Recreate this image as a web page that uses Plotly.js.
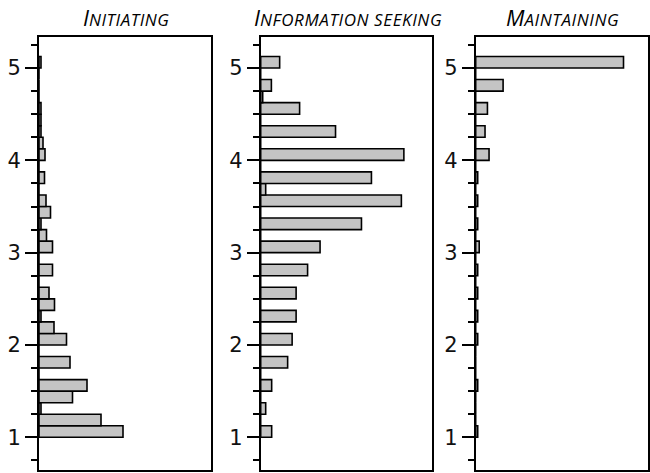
<!DOCTYPE html>
<html>
<head>
<meta charset="utf-8">
<script src="https://cdn.plot.ly/plotly-3.0.1.min.js"></script>
<style>
  html, body { margin: 0; padding: 0; background: #fff; }
  #chart { width: 650px; height: 473px; }
</style>
</head>
<body>
<div id="chart"></div>
<script>
// Score bins (centres of 0.125-wide bins, 1.0 to 5.125)
const scoreBins = [1.0625, 1.1875, 1.3125, 1.4375, 1.5625, 1.6875, 1.8125, 1.9375,
  2.0625, 2.1875, 2.3125, 2.4375, 2.5625, 2.6875, 2.8125, 2.9375,
  3.0625, 3.1875, 3.3125, 3.4375, 3.5625, 3.6875, 3.8125, 3.9375,
  4.0625, 4.1875, 4.3125, 4.4375, 4.5625, 4.6875, 4.8125, 4.9375, 5.0625];

// Frequencies (arbitrary units)
const initiating = [84, 62, 2, 33.5, 48, 0, 31, 0, 27.5, 15, 2, 15.5, 10, 0, 13.5, 0,
  13.5, 7.5, 2, 11.5, 7, 0, 5.5, 0, 6, 4, 2, 2, 2, 0, 0, 0, 2];
const infoSeeking = [11, 0, 5, 0, 11, 0, 27, 0, 31.5, 0, 35.5, 0, 35.5, 0, 47, 0,
  59.5, 0, 101, 0, 141, 5, 111, 0, 143.5, 0, 75, 0, 39, 2, 10.7, 0, 19];
const maintaining = [2, 0, 0, 0, 2, 0, 0, 0, 2, 0, 2, 0, 2, 0, 2, 0,
  3.5, 0, 2, 0, 2, 0, 2, 0, 13.3, 0, 9.3, 0, 11.7, 0, 27.3, 0, 147.3];

const panelTitles = [
  '<i>I<span style="font-size:17px;letter-spacing:0.5px">NITIATING</span></i>',
  '<i>I<span style="font-size:17px;letter-spacing:0.6px">NFORMATION SEEKING</span></i>',
  '<i>M<span style="font-size:17px;letter-spacing:0.6px">AINTAINING</span></i>'
];
const tickVals = [1, 2, 3, 4, 5];
const tickText = ['1', '2', '3', '4', '5'];

const series = [initiating, infoSeeking, maintaining];
const W = 650, H = 473;
const xDomains = [[39 / W, 211 / W], [260.7 / W, 432.3 / W], [475.7 / W, 648.3 / W]];
const yDomain = [(H - 470) / H, (H - 37) / H];

const traces = series.map((vals, k) => ({
  type: 'bar',
  orientation: 'h',
  x: vals,
  y: scoreBins,
  width: 0.125,
  xaxis: k === 0 ? 'x' : 'x' + (k + 1),
  yaxis: k === 0 ? 'y' : 'y' + (k + 1),
  marker: { color: '#c4c4c4', line: { color: '#000', width: 1.6 } },
  hoverinfo: 'x+y',
  showlegend: false
}));

const layout = {
  width: W, height: H,
  margin: { l: 0, r: 0, t: 0, b: 0 },
  paper_bgcolor: '#fff', plot_bgcolor: '#fff',
  bargap: 0,
  showlegend: false,
  annotations: panelTitles.map((t, k) => ({
    text: t, xref: 'paper', yref: 'paper',
    x: (xDomains[k][0] + xDomains[k][1]) / 2 + 1 / W, y: (H - 17) / H,
    xanchor: 'center', yanchor: 'middle', showarrow: false,
    font: { family: 'Open Sans, sans-serif', size: 22, color: '#000' }
  }))
};

for (let k = 0; k < 3; k++) {
  const sx = k === 0 ? '' : String(k + 1);
  layout['xaxis' + sx] = {
    domain: xDomains[k], range: [0, 172], anchor: 'y' + sx,
    showline: true, mirror: true, linecolor: '#000', linewidth: 2,
    showticklabels: false, ticks: '', showgrid: false, zeroline: false,
    fixedrange: true, automargin: false
  };
  layout['yaxis' + sx] = {
    domain: yDomain, range: [0.646, 5.336], anchor: 'x' + sx,
    showline: true, mirror: true, linecolor: '#000', linewidth: 2,
    tickmode: 'array', tickvals: tickVals, ticktext: tickText,
    ticks: 'outside', ticklen: 12, tickwidth: 2, tickcolor: '#000',
    minor: { dtick: 0.25, tick0: 0, ticks: 'outside', ticklen: 6, tickwidth: 2, tickcolor: '#000', showgrid: false },
    tickfont: { family: 'DejaVu Sans, sans-serif', size: 21, color: '#111' },
    ticklabelstandoff: 0,
    showgrid: false, zeroline: false, fixedrange: true, automargin: false
  };
}

Plotly.newPlot('chart', traces, layout, { displayModeBar: false, staticPlot: true });
</script>
</body>
</html>
